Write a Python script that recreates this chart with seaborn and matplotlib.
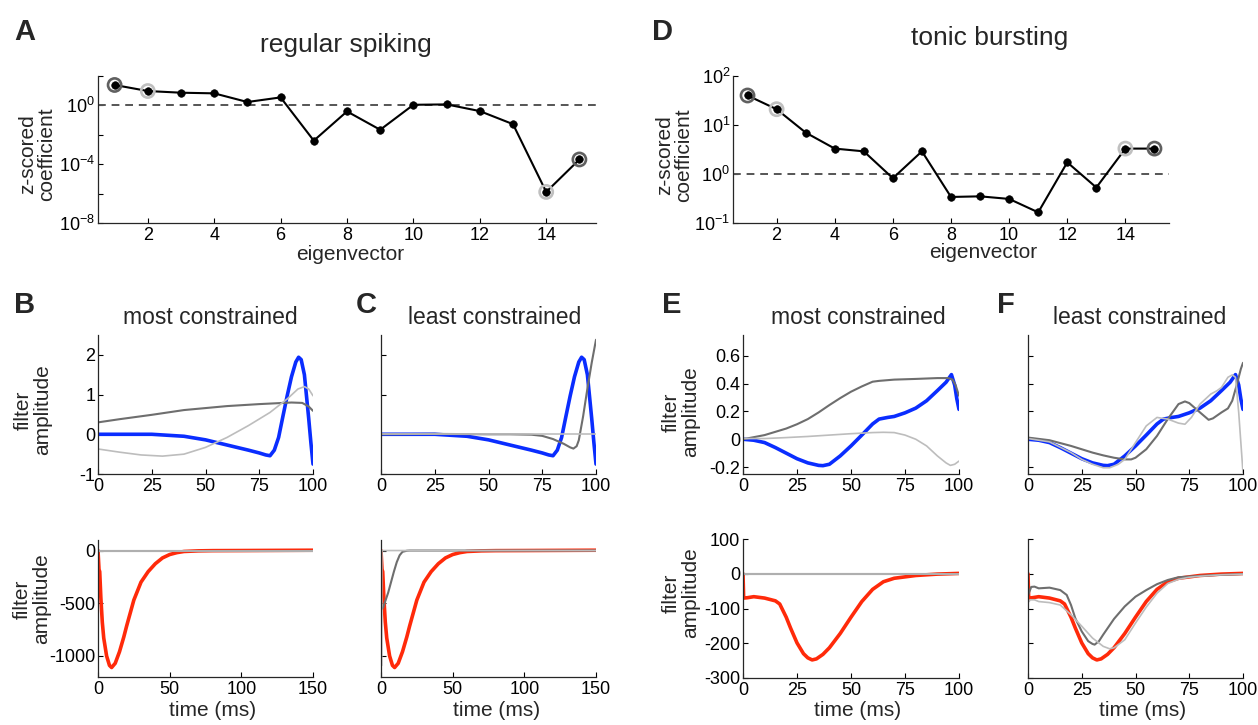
import matplotlib
matplotlib.use("Agg")
import matplotlib.pyplot as plt
import seaborn as sns
from matplotlib.ticker import FixedLocator, FixedFormatter, NullLocator

# ---------------- data ----------------
eig_idx = list(range(1, 16))
rs_coef = [24.5, 9.5, 7.3, 6.6, 1.7, 3.5, 4e-3, 0.39, 0.022, 1.1, 1.17, 0.41, 0.053, 1.3e-6, 2.1e-4]
tb_coef = [40, 21, 7.0, 3.3, 2.9, 0.82, 2.9, 0.34, 0.35, 0.31, 0.165, 1.73, 0.53, 3.3, 3.3]
rs_most, rs_least = [1, 15], [2, 14]
tb_most, tb_least = [1, 15], [2, 14]

# regular spiking: stimulus filter (true, blue) and recovered filters (grey)
rs_k_t = [0, 10, 25, 40, 50, 60, 70, 75, 78, 80, 82, 84, 86, 88, 90, 92, 93.3, 94.5, 96, 97, 98, 99, 100]
rs_k = [0, 0, 0, -0.05, -0.14, -0.27, -0.4, -0.47, -0.52, -0.54, -0.4, -0.08, 0.45, 0.97, 1.45,
        1.82, 1.94, 1.88, 1.5, 0.95, 0.4, -0.2, -0.75]
rs_k_most_dark_t = [0, 10, 25, 40, 50, 60, 75, 90, 95, 98, 100]
rs_k_most_dark = [0.30, 0.38, 0.49, 0.61, 0.66, 0.71, 0.76, 0.80, 0.79, 0.70, 0.59]
rs_k_most_light_t = [0, 10, 20, 30, 40, 50, 60, 70, 80, 88, 93, 96, 98, 100]
rs_k_most_light = [-0.37, -0.45, -0.52, -0.55, -0.5, -0.33, -0.08, 0.22, 0.55, 0.89, 1.14, 1.2, 1.14, 0.97]
rs_k_least_dark_t = [0, 25, 50, 60, 70, 75, 80, 85, 88, 89.5, 91, 92, 94, 96, 98, 100]
rs_k_least_dark = [0, 0.01, 0.0, 0.0, -0.01, -0.04, -0.12, -0.24, -0.33, -0.36, -0.3, -0.15, 0.45,
                   1.15, 1.8, 2.38]
rs_k_least_light_t = [0, 50, 100]
rs_k_least_light = [0.0, 0.0, 0.0]

# regular spiking: post-spike filter
rs_h_t = [0, 0.7, 1.2, 2, 3, 4, 6, 8, 9.5, 12, 15, 18, 20, 25, 30, 35, 40, 45, 50, 55, 60, 70, 80, 100, 150]
rs_h = [0, -180, -200, -450, -680, -830, -1000, -1090, -1110, -1070, -960, -820, -715, -470, -300,
        -200, -125, -70, -38, -20, -9, -3, -1, 0, 3]
rs_h_most_dark_t = [0, 150]
rs_h_most_dark = [0, 0]
rs_h_most_light_t = [0, 150]
rs_h_most_light = [0, 0]
rs_h_least_dark_t = [0, 1.5, 3, 5, 7, 9, 11, 13, 15, 18, 20, 150]
rs_h_least_dark = [-560, -540, -480, -400, -300, -200, -110, -45, -12, -2, 0, 0]
rs_h_least_light_t = [0.5, 0.6, 150]
rs_h_least_light = [-1090, 0, 0]

# tonic bursting: stimulus filter
tb_k_t = [0, 5, 10, 15, 20, 25, 30, 35, 37, 40, 45, 50, 55, 60, 63, 67, 70, 75, 80, 85, 90, 94,
          96.5, 98, 99, 100]
tb_k = [0, -0.007, -0.024, -0.06, -0.10, -0.14, -0.17, -0.188, -0.19, -0.18, -0.12, -0.048, 0.03,
        0.11, 0.145, 0.157, 0.164, 0.19, 0.224, 0.277, 0.35, 0.41, 0.465, 0.39, 0.29, 0.215]
tb_k_most_dark_t = [0, 10, 20, 25, 30, 35, 40, 45, 50, 55, 60, 63, 70, 80, 90, 95, 97, 98.5, 100]
tb_k_most_dark = [0, 0.03, 0.077, 0.108, 0.145, 0.193, 0.246, 0.296, 0.342, 0.38, 0.414, 0.42,
                  0.429, 0.434, 0.44, 0.44, 0.429, 0.386, 0.313]
tb_k_most_light_t = [0, 10, 20, 30, 40, 50, 60, 65, 70, 75, 80, 85, 90, 94, 96, 98, 100]
tb_k_most_light = [0.005, 0.005, 0.012, 0.02, 0.03, 0.04, 0.048, 0.05, 0.048, 0.03, 0.0, -0.048,
                   -0.12, -0.17, -0.188, -0.18, -0.157]
tb_k_least_dark_t = [0, 10, 20, 25, 30, 35, 40, 45, 48, 50, 55, 60, 65, 70, 73, 75, 80, 84, 86,
                     90, 93, 95, 97, 99, 100]
tb_k_least_dark = [0.012, -0.007, -0.048, -0.072, -0.096, -0.116, -0.133, -0.145, -0.145, -0.133,
                   -0.072, 0.024, 0.145, 0.253, 0.272, 0.26, 0.193, 0.14, 0.15, 0.193, 0.222, 0.277,
                   0.386, 0.506, 0.55]
tb_k_least_light_t = [0, 10, 20, 25, 30, 35, 38, 42, 45, 50, 55, 60, 65, 70, 73, 76, 80, 85, 88,
                      90, 93, 95, 96.5, 98, 100]
tb_k_least_light = [0.005, -0.019, -0.096, -0.145, -0.18, -0.205, -0.205, -0.18, -0.145, -0.024,
                    0.096, 0.157, 0.145, 0.116, 0.108, 0.157, 0.253, 0.325, 0.35, 0.373, 0.446,
                    0.463, 0.446, 0.193, -0.24]

# tonic bursting: post-spike filter
tb_h_t = [0, 0.3, 2, 5, 10, 15, 17, 20, 22, 25, 28, 30, 32, 34, 37, 40, 45, 50, 55, 60, 65, 70,
          75, 80, 90, 100]
tb_h = [0, -70, -69, -66, -70, -78, -87, -125, -156, -199, -230, -242, -248, -245, -232, -213,
        -172, -125, -80, -45, -23, -13, -9, -5, -1, 1]
tb_h_most_dark_t = [0, 100]
tb_h_most_dark = [0, 0]
tb_h_most_light_t = [0, 100]
tb_h_most_light = [0, 0]
tb_h_least_dark_t = [0, 1.5, 3, 5, 10, 15, 18, 20, 22, 25, 28, 30, 31, 33, 35, 40, 45, 50, 55, 60,
                     65, 70, 80, 90, 100]
tb_h_least_dark = [-62, -38, -37, -42, -40, -47, -61, -90, -128, -166, -194, -202, -204, -194,
                   -175, -130, -94, -66, -47, -30, -18, -10, -6, -3, -1]
tb_h_least_light_t = [0.5, 1, 3, 5, 10, 15, 20, 25, 30, 35, 38, 40, 45, 50, 55, 60, 65, 70, 75,
                      80, 90, 100]
tb_h_least_light = [-80, -75, -75, -80, -83, -90, -118, -151, -185, -209, -216, -213, -190, -142,
                    -96, -56, -28, -16, -10, -7, -3, -1]

# ---------------- style ----------------
sns.set_style("ticks", {"xtick.direction": "in", "ytick.direction": "in"})
plt.rcParams["font.family"] = ["Liberation Sans", "DejaVu Sans"]
plt.rcParams["mathtext.default"] = "regular"
plt.rcParams["axes.unicode_minus"] = False
plt.rcParams["axes.linewidth"] = 0.9
plt.rcParams["xtick.major.size"] = 3.5
plt.rcParams["ytick.major.size"] = 3.5
plt.rcParams["xtick.major.width"] = 0.8
plt.rcParams["ytick.major.width"] = 0.8

TICK = 13
LAB = 15
TITLE = 16.5
TOPTITLE = 19
LET = 21

BLUE = "#0a2dff"
RED = "#ff2a0a"
DARK = "#6e6e6e"
LIGHT = "#bdbdbd"

W, H = 1258, 725
fig = plt.figure(figsize=(W / 100, H / 100), dpi=100)


def add_ax(l, t, r, b):
    return fig.add_axes([l / W, 1 - b / H, (r - l) / W, (b - t) / H])


def style(ax, xlim, ylim, xt, yt, xlabels=True, ylabels=True):
    ax.set_xlim(*xlim)
    ax.set_ylim(*ylim)
    ax.xaxis.set_major_locator(FixedLocator(xt))
    ax.yaxis.set_major_locator(FixedLocator(yt))
    ax.xaxis.set_minor_locator(NullLocator())
    ax.yaxis.set_minor_locator(NullLocator())
    if not xlabels:
        ax.set_xticklabels([])
    if not ylabels:
        ax.set_yticklabels([])
    ax.tick_params(labelsize=TICK, colors="black")
    ax.tick_params(axis="y", pad=2)
    ax.tick_params(axis="x", pad=3)
    sns.despine(ax=ax)
    ax.set_xlabel("")
    ax.set_ylabel("")


def line(ax, x, y, color, lw):
    sns.lineplot(x=x, y=y, ax=ax, color=color, linewidth=lw, sort=False, estimator=None,
                 solid_capstyle="round")


def coef_panel(ax, coef, most, least):
    ax.set_yscale("log")
    ax.axhline(1.0, color="#555555", linestyle=(0, (4, 3)), linewidth=1.4, zorder=1)
    line(ax, eig_idx, coef, "black", 1.5)
    for idx, col in ((most, "#606060"), (least, "#c0c0c0")):
        xs = [i for i in idx]
        ys = [coef[i - 1] for i in idx]
        sns.scatterplot(x=xs, y=ys, ax=ax, s=90, facecolor="none", edgecolor=col, linewidth=1.9,
                        zorder=3)
    sns.scatterplot(x=eig_idx, y=coef, ax=ax, s=30, color="black", edgecolor="black", zorder=4)


# ---------------- panel A ----------------
axA = add_ax(98, 76, 596, 223)
coef_panel(axA, rs_coef, rs_most, rs_least)
style(axA, (0.5, 15.5), (1e-8, 1e2), [2, 4, 6, 8, 10, 12, 14], [1e-8, 1e-6, 1e-4, 1e-2, 1e0, 1e2])
axA.yaxis.set_major_formatter(FixedFormatter([r"$10^{-8}$", "", r"$10^{-4}$", "", r"$10^{0}$", ""]))

# ---------------- panel D ----------------
axD = add_ax(733, 76, 1169, 223)
coef_panel(axD, tb_coef, tb_most, tb_least)
style(axD, (0.5, 15.5), (1e-1, 1e2), [2, 4, 6, 8, 10, 12, 14], [1e-1, 1e0, 1e1, 1e2])
axD.yaxis.set_major_formatter(FixedFormatter([r"$10^{-1}$", r"$10^{0}$", r"$10^{1}$", r"$10^{2}$"]))

# ---------------- filter panels ----------------
def filter_panel(ax, truth, dark, light, tcol, xlim, ylim, xt, yt, ylabels):
    line(ax, truth[0], truth[1], tcol, 2.6)
    line(ax, dark[0], dark[1], DARK, 1.5)
    line(ax, light[0], light[1], LIGHT, 1.2)
    style(ax, xlim, ylim, xt, yt, ylabels=ylabels)


axB1 = add_ax(98, 335, 313, 474)
filter_panel(axB1, (rs_k_t, rs_k), (rs_k_most_dark_t, rs_k_most_dark),
             (rs_k_most_light_t, rs_k_most_light), BLUE, (0, 100), (-1, 2.5),
             [0, 25, 50, 75, 100], [-1, 0, 1, 2], True)
axC1 = add_ax(381, 335, 596, 474)
filter_panel(axC1, (rs_k_t, rs_k), (rs_k_least_dark_t, rs_k_least_dark),
             (rs_k_least_light_t, rs_k_least_light), BLUE, (0, 100), (-1, 2.5),
             [0, 25, 50, 75, 100], [-1, 0, 1, 2], False)
axB2 = add_ax(98, 540, 313, 677)
filter_panel(axB2, (rs_h_t, rs_h), (rs_h_most_dark_t, rs_h_most_dark),
             (rs_h_most_light_t, rs_h_most_light), RED, (0, 150), (-1200, 100),
             [0, 50, 100, 150], [-1000, -500, 0], True)
axC2 = add_ax(381, 540, 596, 677)
filter_panel(axC2, (rs_h_t, rs_h), (rs_h_least_dark_t, rs_h_least_dark),
             (rs_h_least_light_t, rs_h_least_light), RED, (0, 150), (-1200, 100),
             [0, 50, 100, 150], [-1000, -500, 0], False)

axE1 = add_ax(743, 335, 959, 474)
filter_panel(axE1, (tb_k_t, tb_k), (tb_k_most_dark_t, tb_k_most_dark),
             (tb_k_most_light_t, tb_k_most_light), BLUE, (0, 100), (-0.25, 0.75),
             [0, 25, 50, 75, 100], [-0.2, 0, 0.2, 0.4, 0.6], True)
axE1.yaxis.set_major_formatter(FixedFormatter(["-0.2", "0", "0.2", "0.4", "0.6"]))
axF1 = add_ax(1028, 335, 1243, 474)
filter_panel(axF1, (tb_k_t, tb_k), (tb_k_least_dark_t, tb_k_least_dark),
             (tb_k_least_light_t, tb_k_least_light), BLUE, (0, 100), (-0.25, 0.75),
             [0, 25, 50, 75, 100], [-0.2, 0, 0.2, 0.4, 0.6], False)
axE2 = add_ax(743, 539, 959, 678)
filter_panel(axE2, (tb_h_t, tb_h), (tb_h_most_dark_t, tb_h_most_dark),
             (tb_h_most_light_t, tb_h_most_light), RED, (0, 100), (-300, 100),
             [0, 25, 50, 75, 100], [-300, -200, -100, 0, 100], True)
axF2 = add_ax(1028, 539, 1243, 678)
filter_panel(axF2, (tb_h_t, tb_h), (tb_h_least_dark_t, tb_h_least_dark),
             (tb_h_least_light_t, tb_h_least_light), RED, (0, 100), (-300, 100),
             [0, 25, 50, 75, 100], [-300, -200, -100, 0, 100], False)

# ---------------- text ----------------
def txt(x, y, s, size, **kw):
    fig.text(x / W, 1 - y / H, s, fontsize=size, ha="center", va="center", **kw)


for (x, y, s) in [(25, 32, "A"), (662, 32, "D"), (25, 305, "B"), (366, 305, "C"),
                  (672, 305, "E"), (1006, 305, "F")]:
    txt(x, y, s, LET, fontweight="bold")

txt(346, 45, "regular spiking", TOPTITLE)
txt(990, 38, "tonic bursting", TOPTITLE)
for (x, s) in [(210, "most constrained"), (495, "least constrained"),
               (858, "most constrained"), (1140, "least constrained")]:
    txt(x, 318, s, TITLE)

txt(350, 254, "eigenvector", LAB)
txt(983, 253, "eigenvector", LAB)
for x in (213, 497, 858, 1143):
    txt(x, 710, "time (ms)", LAB)

txt(37, 154, "z-scored\ncoefficient", LAB, rotation=90, linespacing=1.0)
txt(674, 155, "z-scored\ncoefficient", LAB, rotation=90, linespacing=1.0)
txt(33, 410, "filter\namplitude", LAB, rotation=90, linespacing=1.0)
txt(32, 599, "filter\namplitude", LAB, rotation=90, linespacing=1.0)
txt(681, 412, "filter\namplitude", LAB, rotation=90, linespacing=1.0)
txt(681, 593, "filter\namplitude", LAB, rotation=90, linespacing=1.0)

fig.savefig("out.png", dpi=100, facecolor="white")
